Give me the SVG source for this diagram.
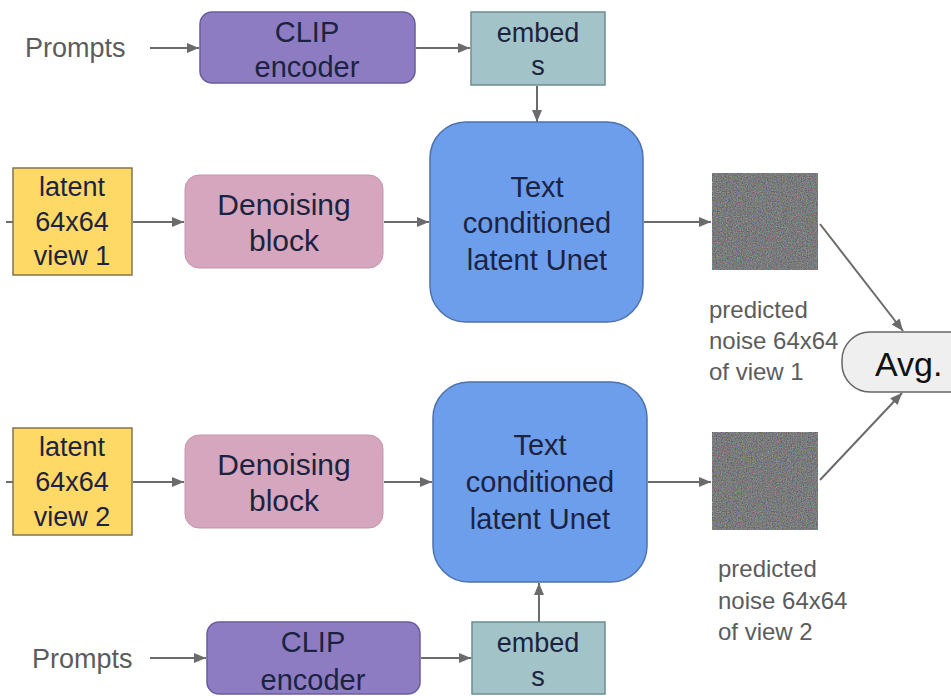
<svg xmlns="http://www.w3.org/2000/svg" width="951" height="696" viewBox="0 0 951 696">
  <defs>
    <style>
      .lbl { font-family: "Liberation Sans", Arial, sans-serif; fill: #1c2340; text-anchor: middle; }
      .side { font-family: "Liberation Sans", Arial, sans-serif; fill: #5c5c5c; }
      .clip { fill: #8e7cc3; stroke: #6a5c9c; stroke-width: 1.5; }
      .emb { fill: #a2c4c9; stroke: #6f8d91; stroke-width: 1.5; }
      .lat { fill: #ffd966; stroke: #7f7550; stroke-width: 1.5; }
      .den { fill: #d5a6bd; stroke: #c397ad; stroke-width: 1; }
      .unet { fill: #6d9eeb; stroke: #4d71ab; stroke-width: 1.5; }
      .conn line { stroke: #6b6b6b; stroke-width: 2; fill: none; }
    </style>
    <marker id="ah" viewBox="0 0 12 10" refX="12" refY="5" markerWidth="12" markerHeight="10" markerUnits="userSpaceOnUse" orient="auto">
      <path d="M0,0 L12,5 L0,10 Z" fill="#6b6b6b"/>
    </marker>
    <!-- speckled grey noise tile for the predicted-noise squares -->
    <filter id="noise" x="0" y="0" width="1" height="1" filterUnits="objectBoundingBox" color-interpolation-filters="sRGB">
      <feTurbulence type="fractalNoise" baseFrequency="0.8" numOctaves="2" seed="7" result="t"/>
      <feColorMatrix in="t" type="matrix" values="0.5 0.05 0 0 0.2  0.03 0.48 0.05 0 0.2  0 0.05 0.5 0 0.21  0 0 0 0 1" result="c"/>
      <feComposite in="c" in2="SourceGraphic" operator="in"/>
    </filter>
  </defs>

  <rect width="951" height="696" fill="#ffffff"/>

  <!-- connectors -->
  <g class="conn">
    <line x1="150" y1="48" x2="199" y2="48" marker-end="url(#ah)"/>
    <line x1="416" y1="48" x2="470" y2="48" marker-end="url(#ah)"/>
    <line x1="537" y1="86" x2="537" y2="122" marker-end="url(#ah)"/>
    <line x1="6" y1="222" x2="13" y2="222"/>
    <line x1="133" y1="222" x2="184" y2="222" marker-end="url(#ah)"/>
    <line x1="384" y1="222" x2="429" y2="222" marker-end="url(#ah)"/>
    <line x1="644" y1="222" x2="711" y2="222" marker-end="url(#ah)"/>
    <line x1="820" y1="224" x2="903" y2="331" marker-end="url(#ah)"/>
    <line x1="6" y1="482" x2="13" y2="482"/>
    <line x1="133" y1="482" x2="184" y2="482" marker-end="url(#ah)"/>
    <line x1="384" y1="482" x2="432" y2="482" marker-end="url(#ah)"/>
    <line x1="648" y1="482" x2="711" y2="482" marker-end="url(#ah)"/>
    <line x1="820" y1="480" x2="902" y2="393" marker-end="url(#ah)"/>
    <line x1="150" y1="658" x2="206" y2="658" marker-end="url(#ah)"/>
    <line x1="421" y1="658" x2="471" y2="658" marker-end="url(#ah)"/>
    <line x1="539" y1="622" x2="539" y2="583" marker-end="url(#ah)"/>
  </g>

  <!-- upper branch -->
  <g id="prompts1">
    <text class="side" x="25" y="57" font-size="27">Prompts</text>
  </g>
  <g id="clip1">
    <rect class="clip" x="200" y="12" width="215" height="71" rx="12"/>
    <text class="lbl" x="307" y="42" font-size="29">CLIP</text>
    <text class="lbl" x="307" y="77" font-size="29">encoder</text>
  </g>
  <g id="embeds1">
    <rect class="emb" x="471" y="12" width="134" height="73"/>
    <text class="lbl" x="538" y="42" font-size="27">embed</text>
    <text class="lbl" x="538" y="75" font-size="27">s</text>
  </g>
  <g id="latent1">
    <rect class="lat" x="13" y="168" width="119" height="107"/>
    <text class="lbl" x="72" y="196" font-size="27">latent</text>
    <text class="lbl" x="72" y="231" font-size="27">64x64</text>
    <text class="lbl" x="72" y="265" font-size="27">view 1</text>
  </g>
  <g id="denoise1">
    <rect class="den" x="185" y="175" width="198" height="93" rx="14"/>
    <text class="lbl" x="284" y="215" font-size="30">Denoising</text>
    <text class="lbl" x="284" y="251" font-size="30">block</text>
  </g>
  <g id="unet1">
    <rect class="unet" x="430" y="122" width="213" height="200" rx="36"/>
    <text class="lbl" x="537" y="197" font-size="29">Text</text>
    <text class="lbl" x="537" y="233" font-size="29">conditioned</text>
    <text class="lbl" x="537" y="270" font-size="29">latent Unet</text>
  </g>
  <g id="noise1">
    <rect x="712" y="173" width="106" height="97" fill="#777" filter="url(#noise)"/>
    <text class="side" x="709" y="318" font-size="24">predicted</text>
    <text class="side" x="709" y="349" font-size="24">noise 64x64</text>
    <text class="side" x="709" y="380" font-size="24">of view 1</text>
  </g>

  <!-- average -->
  <g id="avg">
    <rect x="842" y="332" width="150" height="60" rx="28" fill="#efefef" stroke="#666" stroke-width="1.5"/>
    <text x="875" y="376" font-family="'Liberation Sans', Arial, sans-serif" font-size="34" fill="#111">Avg.</text>
  </g>

  <!-- lower branch -->
  <g id="latent2">
    <rect class="lat" x="13" y="428" width="119" height="107"/>
    <text class="lbl" x="72" y="456" font-size="27">latent</text>
    <text class="lbl" x="72" y="491" font-size="27">64x64</text>
    <text class="lbl" x="72" y="526" font-size="27">view 2</text>
  </g>
  <g id="denoise2">
    <rect class="den" x="185" y="435" width="198" height="93" rx="14"/>
    <text class="lbl" x="284" y="475" font-size="30">Denoising</text>
    <text class="lbl" x="284" y="511" font-size="30">block</text>
  </g>
  <g id="unet2">
    <rect class="unet" x="433" y="382" width="214" height="200" rx="36"/>
    <text class="lbl" x="540" y="455" font-size="29">Text</text>
    <text class="lbl" x="540" y="492" font-size="29">conditioned</text>
    <text class="lbl" x="540" y="529" font-size="29">latent Unet</text>
  </g>
  <g id="noise2">
    <rect x="712" y="432" width="106" height="98" fill="#777" filter="url(#noise)"/>
    <text class="side" x="718" y="577" font-size="24">predicted</text>
    <text class="side" x="718" y="609" font-size="24">noise 64x64</text>
    <text class="side" x="718" y="640" font-size="24">of view 2</text>
  </g>
  <g id="prompts2">
    <text class="side" x="32" y="668" font-size="27">Prompts</text>
  </g>
  <g id="clip2">
    <rect class="clip" x="207" y="622" width="213" height="72" rx="12"/>
    <text class="lbl" x="313" y="652" font-size="29">CLIP</text>
    <text class="lbl" x="313" y="690" font-size="29">encoder</text>
  </g>
  <g id="embeds2">
    <rect class="emb" x="472" y="622" width="133" height="72"/>
    <text class="lbl" x="538" y="652" font-size="27">embed</text>
    <text class="lbl" x="538" y="686" font-size="27">s</text>
  </g>
</svg>
